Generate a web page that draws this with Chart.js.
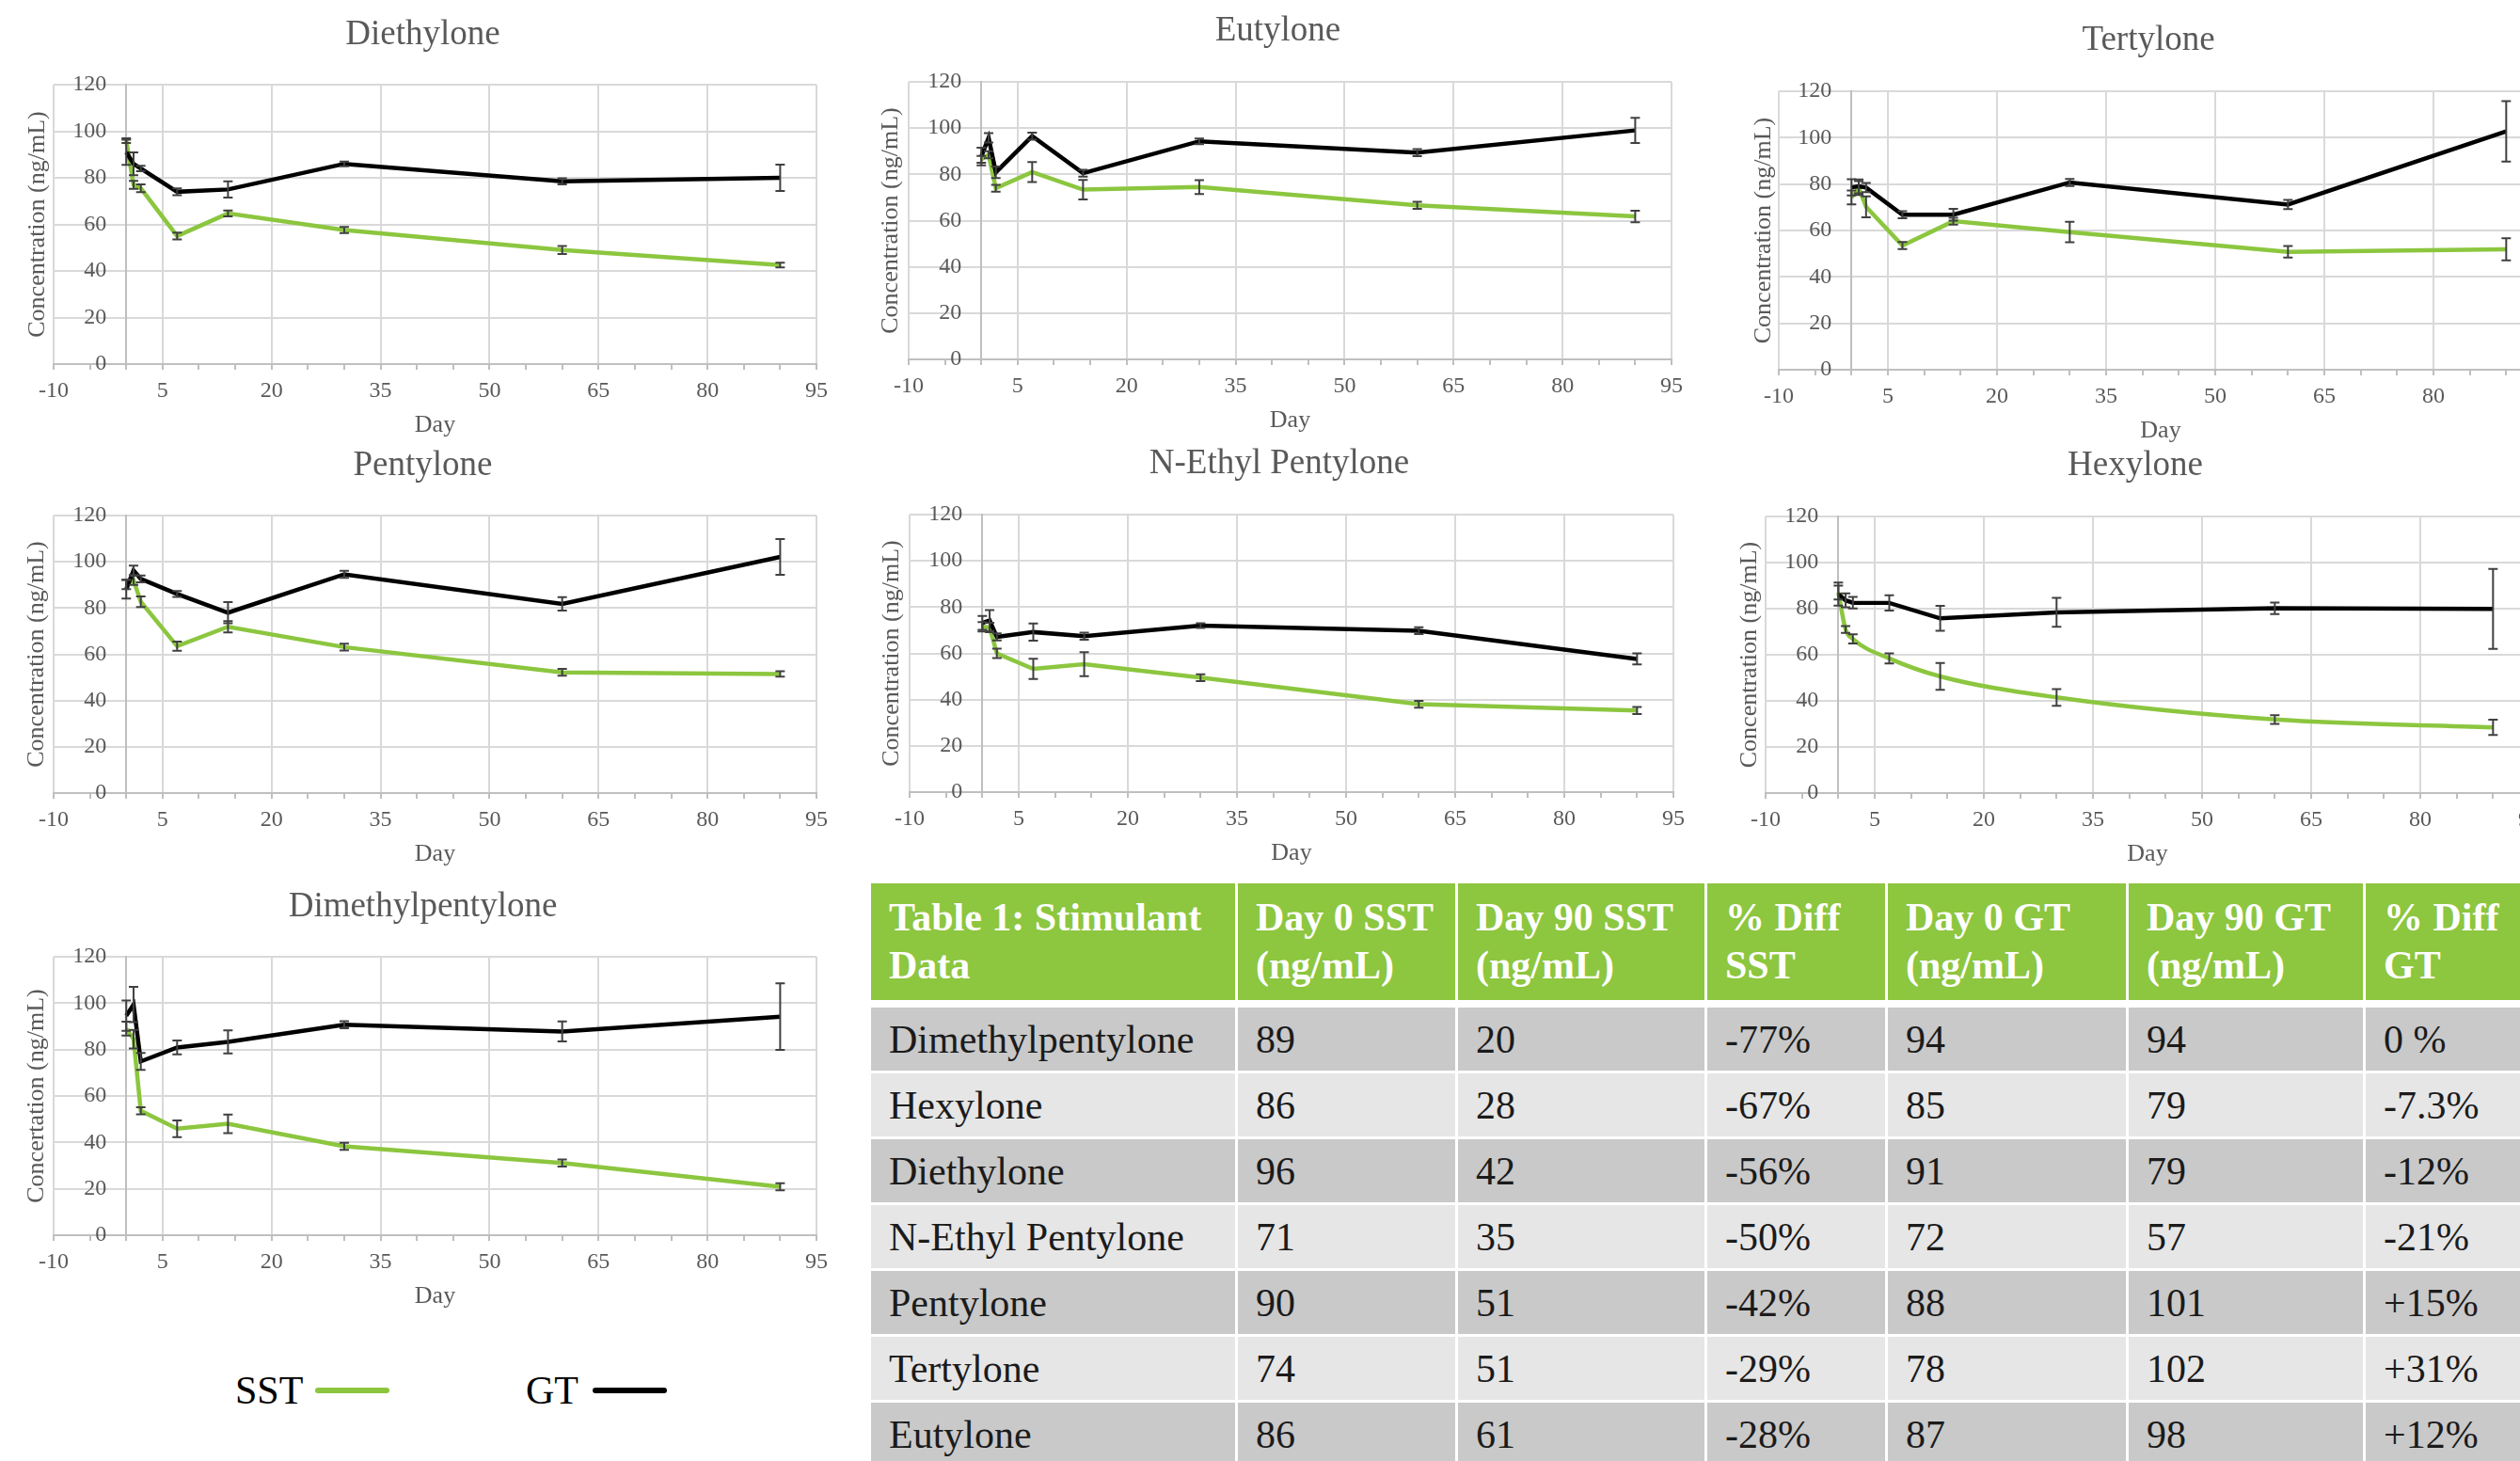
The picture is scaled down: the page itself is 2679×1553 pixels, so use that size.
<!DOCTYPE html>
<html>
<head>
<meta charset="utf-8">
<title>Stimulant stability in SST and GT tubes</title>
<script src="https://cdn.jsdelivr.net/npm/chart.js@4.4.1/dist/chart.umd.min.js"></script>
<style>
  html, body { margin: 0; padding: 0; background: #fff; }
  body {
    width: 2679px; height: 1553px; overflow: hidden; position: relative;
    font-family: "Liberation Serif", "Times New Roman", serif;
  }
  canvas.panel { position: absolute; }

  /* legend under the last chart */
  .key-text { position: absolute; top: 1457px; font-size: 42px; line-height: 42px; color: #000; }
  .key-line { position: absolute; top: 1475px; height: 6px; width: 79px; border-radius: 3px; }

  /* table 1 */
  #stimTable {
    position: absolute; left: 923px; top: 936px;
    border-collapse: separate; border-spacing: 3px;
    table-layout: fixed; width: 1795px;
    font-size: 42px;
  }
  #stimTable td, #stimTable th {
    box-sizing: border-box; padding: 0 0 0 19px;
    text-align: left; vertical-align: middle; white-space: nowrap;
  }
  #stimTable th {
    height: 129px; background: #8dc63f; color: #fff; font-weight: bold;
    line-height: 51px; white-space: normal;
    border-bottom: 5px solid #fff;
  }
  #stimTable td { height: 67px; color: #1b1b1b; font-weight: normal; }
  #stimTable tr.dark td { background: #c9c9c9; }
  #stimTable tr.light td { background: #e6e6e6; }
</style>
</head>
<body>

<span class="key-text" style="left:250px">SST</span>
<span class="key-line" style="left:335px; background:#8cc63f"></span>
<span class="key-text" style="left:559px">GT</span>
<span class="key-line" style="left:630px; background:#000"></span>

<table id="stimTable">
  <colgroup>
    <col style="width:387px"><col style="width:231px"><col style="width:262px">
    <col style="width:189px"><col style="width:253px"><col style="width:249px"><col style="width:200px">
  </colgroup>
  <thead><tr id="headRow"></tr></thead>
  <tbody id="tableBody"></tbody>
</table>

<script>
/* ============================================
   DATA
============================================ */

const days = [0, 1, 2, 7, 14, 30, 60, 90];
const dayLabels = [-10, 5, 20, 35, 50, 65, 80, 95];
const concTicks = [0, 20, 40, 60, 80, 100, 120];

// Diethylone
const diethyloneSST    = [96, 77, 75.5, 55, 64.7, 57.6, 49, 42.5];
const diethyloneSSTErr = [1, 1.7, 1.7, 1.5, 1.3, 1.3, 1.7, 1];
const diethyloneGT     = [91, 86, 84, 74, 75, 86, 78.5, 80];
const diethyloneGTErr  = [5.4, 4.9, 1.2, 1.5, 3.5, 1, 1.3, 5.7];

// Eutylone
const eutyloneSST    = [86.5, 88.5, 74, 81, 73.4, 74.5, 66.6, 61.8];
const eutyloneSSTErr = [1.5, 1.5, 1.5, 4.3, 4.2, 3, 1.5, 2.5];
const eutyloneGT     = [87.7, 95.8, 80.9, 96.5, 80.5, 94.3, 89.4, 99];
const eutyloneGTErr  = [3.8, 2, 2.5, 1.5, 1.5, 1.2, 1.5, 5.4];

// Tertylone
const tertyloneSST    = [74.2, 78.3, 70.2, 53.5, 64, 59.3, 50.8, 51.9];
const tertyloneSSTErr = [3, 3, 4.5, 1.5, 1.5, 4.4, 2.5, 4.8];
const tertyloneGT     = [78.6, 79, 78.5, 66.8, 66.8, 80.7, 71.2, 102.7];
const tertyloneGTErr  = [3.5, 3, 2, 1.5, 2.5, 1.5, 2, 13];

// Pentylone
const pentyloneSST    = [90.2, 92, 82.7, 63.5, 71.9, 63.1, 52.2, 51.5];
const pentyloneSSTErr = [2, 2, 2.3, 2, 2.4, 1.5, 1.5, 1.2];
const pentyloneGT     = [88.1, 96.3, 92.6, 86.1, 78, 94.6, 81.8, 102.1];
const pentyloneGTErr  = [4, 2, 1.5, 1.3, 4.6, 1.5, 2.9, 7.7];

// N-Ethyl Pentylone
const nEthylSST    = [71.5, 71.2, 60, 53.3, 55.3, 49.5, 38, 35.3];
const nEthylSSTErr = [2, 2, 2, 4.4, 5.2, 1.5, 1.5, 1.5];
const nEthylGT     = [73.2, 74.2, 67.1, 69.2, 67.4, 72, 69.8, 57.6];
const nEthylGTErr  = [3, 4.5, 1.5, 3.7, 1.5, 1, 1.5, 2.4];

// Hexylone
const hexyloneSST    = [87, 71, 66.9, 58.4, 50.6, 41.5, 31.9, 28.5];
const hexyloneSSTErr = [3, 1.5, 2, 2.2, 5.8, 3.6, 1.9, 3.3];
const hexyloneGT     = [86.3, 83.6, 82.6, 82.5, 75.8, 78.4, 80.2, 79.9];
const hexyloneGTErr  = [5, 3, 2.5, 3.3, 5.4, 6.25, 2.5, 17.3];

// Dimethylpentylone
const dimethylSST    = [89, 84.5, 53.6, 45.9, 48, 38.3, 31.1, 20.9];
const dimethylSSTErr = [3, 4, 1.5, 3.6, 4, 1.5, 1.5, 1.5];
const dimethylGT     = [94.6, 99.4, 74.9, 80.9, 83.3, 90.7, 87.8, 94.2];
const dimethylGTErr  = [6.5, 7.6, 3.6, 3, 5, 1.5, 4.3, 14.3];

// Table 1
const tableHeaders = ["Table 1: Stimulant Data", "Day 0 SST (ng/mL)", "Day 90 SST (ng/mL)",
                      "% Diff SST", "Day 0 GT (ng/mL)", "Day 90 GT (ng/mL)", "% Diff GT"];
const tableNames   = ["Dimethylpentylone", "Hexylone", "Diethylone", "N-Ethyl Pentylone",
                      "Pentylone", "Tertylone", "Eutylone"];
const tableDay0SST  = [89, 86, 96, 71, 90, 74, 86];
const tableDay90SST = [20, 28, 42, 35, 51, 51, 61];
const tableDiffSST  = ["-77%", "-67%", "-56%", "-50%", "-42%", "-29%", "-28%"];
const tableDay0GT   = [94, 85, 91, 72, 88, 78, 87];
const tableDay90GT  = [94, 79, 79, 57, 101, 102, 98];
const tableDiffGT   = ["0 %", "-7.3%", "-12%", "-21%", "+15%", "+31%", "+12%"];

/* ============================================
   STYLE
============================================ */

const SERIF = '"Liberation Serif", "Times New Roman", serif';
const GREEN = "#8cc63f";
const GREY_TEXT = "#595959";
const GRID = "#d9d9d9";
const AXIS = "#bfbfbf";

/* ============================================
   Plugins: error bars + panel texts
============================================ */

const errorBars = {
    id: "errorBars",
    afterDatasetsDraw(chart) {
        const { ctx, scales: { x, y } } = chart;
        ctx.save();
        ctx.strokeStyle = "#404040";
        ctx.lineWidth = 2;
        chart.data.datasets.forEach(ds => {
            if (!ds.errors) return;
            ds.data.forEach((pt, j) => {
                const e = ds.errors[j];
                const px = x.getPixelForValue(pt.x);
                const top = y.getPixelForValue(pt.y + e);
                const bot = y.getPixelForValue(pt.y - e);
                ctx.beginPath();
                ctx.moveTo(px, top); ctx.lineTo(px, bot);
                ctx.moveTo(px - 5, top); ctx.lineTo(px + 5, top);
                ctx.moveTo(px - 5, bot); ctx.lineTo(px + 5, bot);
                ctx.stroke();
            });
        });
        ctx.restore();
    }
};

// title, y tick labels beside the day-0 axis, rotated y title
const panelText = {
    id: "panelText",
    afterDraw(chart, args, opts) {
        const { ctx, chartArea, scales: { x, y } } = chart;
        ctx.save();
        ctx.fillStyle = GREY_TEXT;
        ctx.textBaseline = "middle";

        ctx.font = "37px " + SERIF;
        ctx.textAlign = "center";
        ctx.fillText(opts.title, (chartArea.left + chartArea.right) / 2 + opts.titleDx,
                     chartArea.top - opts.titleGap);

        ctx.font = "24px " + SERIF;
        ctx.textAlign = "right";
        const axisX = x.getPixelForValue(0);
        y.ticks.forEach(t => {
            ctx.fillText(String(t.value), axisX - 21, y.getPixelForValue(t.value));
        });

        ctx.translate(chartArea.left + opts.yOff, (chartArea.top + chartArea.bottom) / 2);
        ctx.rotate(-Math.PI / 2);
        ctx.font = "26px " + SERIF;
        ctx.textAlign = "center";
        ctx.fillText(opts.yLabel, 0, 0);
        ctx.restore();
    }
};

/* ============================================
   Panels
============================================ */

const panels = [
    { title: "Diethylone", sst: diethyloneSST, sstErr: diethyloneSSTErr, gt: diethyloneGT, gtErr: diethyloneGTErr,
      left: 57, right: 868, top: 90, bottom: 387, titleY: 37, yOff: -17 },
    { title: "Eutylone", sst: eutyloneSST, sstErr: eutyloneSSTErr, gt: eutyloneGT, gtErr: eutyloneGTErr,
      left: 966, right: 1777, top: 87, bottom: 382, titleY: 33, yOff: -19 },
    { title: "Tertylone", sst: tertyloneSST, sstErr: tertyloneSSTErr, gt: tertyloneGT, gtErr: tertyloneGTErr,
      left: 1891, right: 2703, top: 97, bottom: 393, titleY: 43, yOff: -16 },
    { title: "Pentylone", sst: pentyloneSST, sstErr: pentyloneSSTErr, gt: pentyloneGT, gtErr: pentyloneGTErr,
      left: 57, right: 868, top: 548, bottom: 843, titleY: 495, yOff: -18 },
    { title: "N-Ethyl Pentylone", sst: nEthylSST, sstErr: nEthylSSTErr, gt: nEthylGT, gtErr: nEthylGTErr,
      left: 967, right: 1779, top: 547, bottom: 842, titleY: 493, yOff: -19 },
    { title: "Hexylone", sst: hexyloneSST, sstErr: hexyloneSSTErr, gt: hexyloneGT, gtErr: hexyloneGTErr,
      left: 1877, right: 2689, top: 549, bottom: 843, titleY: 495, yOff: -17, smooth: true },
    { title: "Dimethylpentylone", sst: dimethylSST, sstErr: dimethylSSTErr, gt: dimethylGT, gtErr: dimethylGTErr,
      left: 57, right: 868, top: 1017, bottom: 1313, titleY: 964, yOff: -18, yLabel: "Concertation (ng/mL)" }
];

function makePanel(p) {
    const padL = 57, padR = 20, xAxisH = 82;
    const canvasTop = p.titleY - 30;

    const canvas = document.createElement("canvas");
    canvas.className = "panel";
    canvas.width = p.right - p.left + padL + padR;
    canvas.height = p.bottom - canvasTop + xAxisH;
    canvas.style.left = (p.left - padL) + "px";
    canvas.style.top = canvasTop + "px";
    document.body.appendChild(canvas);

    new Chart(canvas, {
        type: "line",
        data: {
            datasets: [
                {
                    label: "SST",
                    data: days.map((d, i) => ({ x: d, y: p.sst[i] })),
                    errors: p.sstErr,
                    borderColor: GREEN,
                    borderWidth: 4.5,
                    pointRadius: 0,
                    order: 1,
                    cubicInterpolationMode: p.smooth ? "monotone" : "default"
                },
                {
                    label: "GT",
                    data: days.map((d, i) => ({ x: d, y: p.gt[i] })),
                    errors: p.gtErr,
                    borderColor: "#000",
                    borderWidth: 4.5,
                    pointRadius: 0,
                    order: 0
                }
            ]
        },
        options: {
            responsive: false,
            animation: false,
            events: [],
            layout: { padding: { left: padL, right: padR, top: p.top - canvasTop, bottom: 0 } },
            plugins: {
                legend: { display: false },
                tooltip: { enabled: false },
                title: { display: false },
                panelText: {
                    title: p.title,
                    titleDx: -13,
                    titleGap: p.top - p.titleY,
                    yLabel: p.yLabel || "Concentration (ng/mL)",
                    yOff: p.yOff
                }
            },
            scales: {
                x: {
                    type: "linear",
                    position: "bottom",
                    min: -10,
                    max: 95,
                    afterFit: s => { s.height = xAxisH; },
                    ticks: {
                        stepSize: 5,
                        autoSkip: false,
                        maxRotation: 0,
                        minRotation: 0,
                        padding: 8,
                        color: GREY_TEXT,
                        font: { family: SERIF, size: 24 },
                        callback: v => dayLabels.includes(v) ? String(v) : ""
                    },
                    grid: {
                        color: c => (c.tick && dayLabels.includes(c.tick.value)) ? GRID : "rgba(0,0,0,0)",
                        lineWidth: 2,
                        drawTicks: true,
                        tickLength: 6,
                        tickColor: AXIS
                    },
                    border: { color: AXIS, width: 2 },
                    title: {
                        display: true,
                        text: "Day",
                        color: GREY_TEXT,
                        font: { family: SERIF, size: 26 },
                        padding: { top: 0, bottom: 1.6 }
                    }
                },
                y: {
                    type: "linear",
                    position: { x: 0 },
                    min: concTicks[0],
                    max: concTicks[concTicks.length - 1],
                    ticks: { stepSize: 20, display: false },
                    grid: { color: GRID, lineWidth: 2, drawTicks: false },
                    border: { color: AXIS, width: 2 }
                }
            }
        },
        plugins: [errorBars, panelText]
    });
}

panels.forEach(makePanel);

/* ============================================
   Table 1
============================================ */

const headRow = document.getElementById("headRow");
tableHeaders.forEach(h => {
    const th = document.createElement("th");
    th.textContent = h;
    headRow.appendChild(th);
});

const body = document.getElementById("tableBody");
tableNames.forEach((name, i) => {
    const tr = document.createElement("tr");
    tr.className = i % 2 === 0 ? "dark" : "light";
    [name, tableDay0SST[i], tableDay90SST[i], tableDiffSST[i],
     tableDay0GT[i], tableDay90GT[i], tableDiffGT[i]].forEach(v => {
        const td = document.createElement("td");
        td.textContent = v;
        tr.appendChild(td);
    });
    body.appendChild(tr);
});
</script>
</body>
</html>
